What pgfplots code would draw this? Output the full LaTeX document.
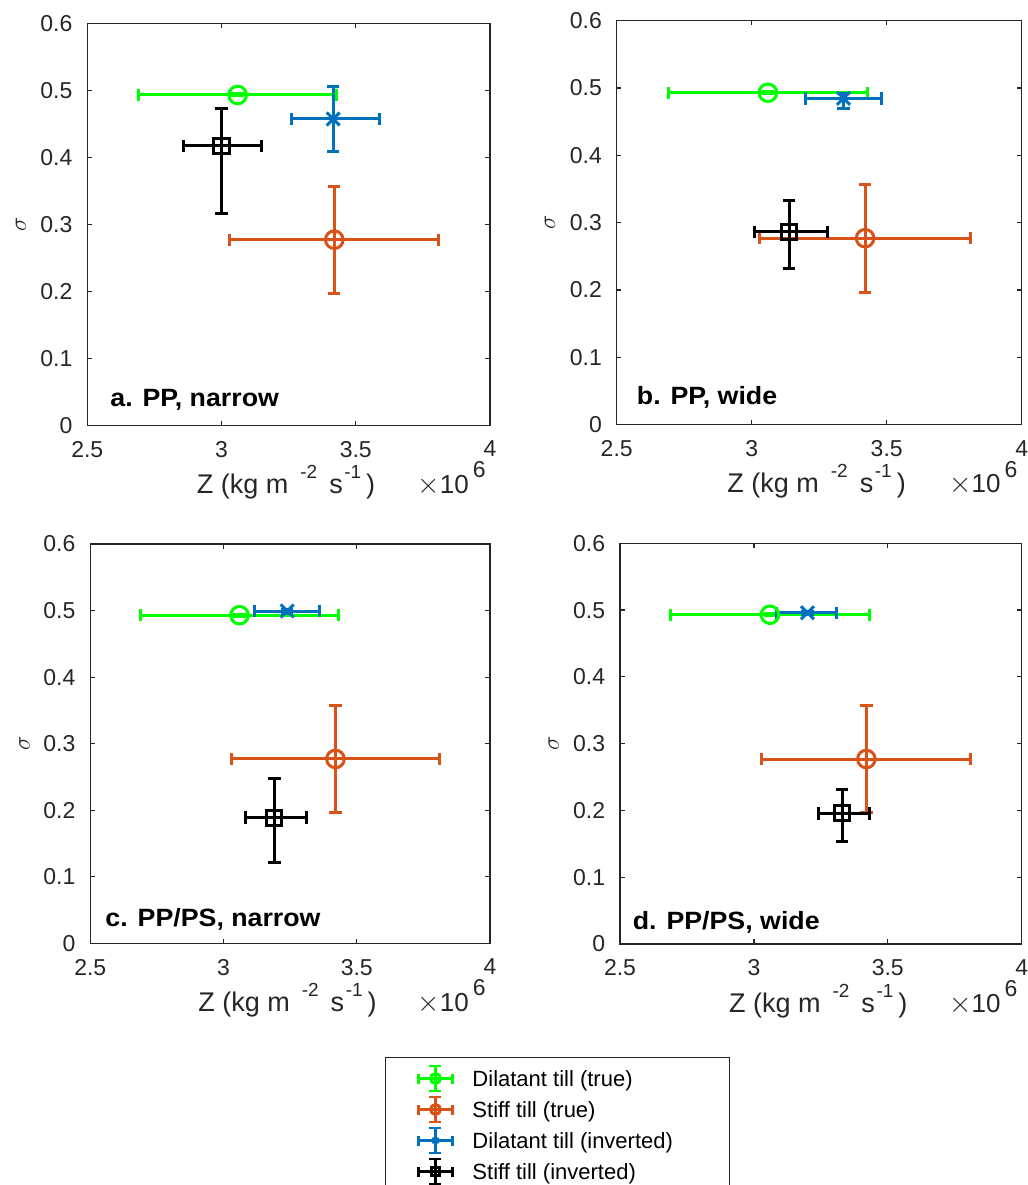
\documentclass[border=0pt]{standalone}
\usepackage{pgfplots}
\pgfplotsset{compat=1.18}
\usepackage{fontspec}
\setmainfont{Liberation Sans}
\usepackage{graphicx}

\definecolor{cGreen}{rgb}{0,1,0}
\definecolor{cOrange}{rgb}{0.851,0.325,0.098}
\definecolor{cBlue}{rgb}{0,0.447,0.741}
\definecolor{cAx}{rgb}{0.15,0.15,0.15}

\newcommand{\sups}[2][9.5]{\raisebox{7.5pt}{\fontsize{#1}{#1}\selectfont #2}}
\newcommand{\xlab}{Z (kg m\hspace{6pt}\sups{-2}\hspace{6pt}s\hspace{0.8pt}\sups{-1}\hspace{2.5pt})}
\newcommand{\tenx}{$\times$\fontsize{13}{15}\selectfont 10\hspace{2pt}\raisebox{7.8pt}{\fontsize{11.5}{12}\selectfont 6}}

\newcommand{\legicon}[3]{%
  \pgfinterruptboundingbox
  \draw[color=#1, line width=1.4pt] (0pt,0pt) -- (17pt,0pt);
  \draw[color=#1, line width=1.4pt] (0pt,-2.5pt) -- (0pt,2.5pt);
  \draw[color=#1, line width=1.4pt] (17pt,-2.5pt) -- (17pt,2.5pt);
  \draw[color=#1, line width=1.4pt] (8.5pt,-6.25pt) -- (8.5pt,6.25pt);
  \draw[color=#1, line width=1.4pt] (5.5pt,-6.25pt) -- (11.5pt,-6.25pt);
  \draw[color=#1, line width=1.4pt] (5.5pt,6.25pt) -- (11.5pt,6.25pt);
  \draw[color=#1, line width=1.2pt, mark=#2, mark size=#3, only marks] plot coordinates {(8.5pt,0pt)};
  \endpgfinterruptboundingbox
  \path[draw=none, fill=none] (-16.5pt,-7.75pt) rectangle (27pt,7.75pt);
}

\pgfplotsset{
  panel/.style={
    scale only axis,
    xmin=2.5, xmax=4, ymin=0, ymax=0.6,
    xtick={2.5,3,3.5,4}, ytick={0,0.1,0.2,0.3,0.4,0.5,0.6},
    tick align=inside, major tick length=2.3pt,
    every tick/.style={cAx, line width=0.6pt},
    axis line style={cAx, line width=0.6pt},
    tick label style={font=\fontsize{11.5}{13}\selectfont, color=cAx},
    /pgf/number format/assume math mode=true,
    yticklabel style={xshift=-3.9pt},
    xticklabel style={yshift=-4.4pt},
    xlabel={\xlab},
    xlabel style={at={(axis description cs:0.5,0)}, anchor=base, yshift=-34pt, xshift=-1.3pt, font=\fontsize{13.5}{15}\selectfont, color=cAx},
    ylabel={$\sigma$},
    ylabel style={at={(axis description cs:-0.165,0.5)}, anchor=center, font=\fontsize{12}{14}\selectfont, color=cAx},
    clip=false,
  },
  eb/.style={only marks, line width=1.5pt, color=#1, mark options={line width=1.5pt},
    error bars/.cd, x dir=both, x explicit, y dir=both, y explicit,
    error bar style={line width=1.5pt, color=#1},
    error mark options={rotate=90, line width=1.5pt, color=#1, mark size=3.1pt}},
  mcirc/.style={mark=o, mark size=4.4pt},
  mx/.style={mark=x, mark size=4.6pt},
  msq/.style={mark=square, mark size=3.8pt},
}

\newcommand{\tenxnode}{\node[anchor=base east, inner sep=0pt, font=\fontsize{13.5}{15}\selectfont, color=cAx] at (rel axis cs:1,0) [xshift=-2pt, yshift=-34pt] {\tenx};}
\newcommand{\plab}[3]{\node[anchor=base west, inner sep=0pt, font=\bfseries\fontsize{12.5}{14}\selectfont] at (rel axis cs:#1,#2) {\scalebox{1.07}[1]{#3}};}

\begin{document}
\begin{tikzpicture}
\useasboundingbox (0,0) rectangle (514pt,592.5pt);

% ---------- a ----------
\begin{axis}[panel, at={(43.65pt,379.85pt)}, anchor=south west, width=201.35pt, height=201pt]
\addplot[mcirc, eb=cGreen] table[x=x, y=y, x error plus=xp, x error minus=xm, y error plus=yp, y error minus=ym] {
x y xm xp ym yp
3.06 0.493 0.370 0.370 0.0015 0.0015
};
\addplot[mcirc, eb=cOrange] table[x=x, y=y, x error plus=xp, x error minus=xm, y error plus=yp, y error minus=ym] {
x y xm xp ym yp
3.42 0.277 0.39 0.39 0.08 0.08
};
\addplot[mx, eb=cBlue] table[x=x, y=y, x error plus=xp, x error minus=xm, y error plus=yp, y error minus=ym] {
x y xm xp ym yp
3.416 0.4572 0.155 0.174 0.0485 0.0485
};
\addplot[msq, eb=black] table[x=x, y=y, x error plus=xp, x error minus=xm, y error plus=yp, y error minus=ym] {
x y xm xp ym yp
3.0 0.417 0.141 0.149 0.1005 0.056
};
\tenxnode
\plab{0.0564}{0.0463}{a. PP, narrow}
\end{axis}

% ---------- b ----------
\begin{axis}[panel, at={(308.35pt,380.15pt)}, anchor=south west, width=202.5pt, height=202pt]
\addplot[mcirc, eb=cGreen] table[x=x, y=y, x error plus=xp, x error minus=xm, y error plus=yp, y error minus=ym] {
x y xm xp ym yp
3.06 0.493 0.370 0.370 0.0015 0.0015
};
\addplot[mcirc, eb=cOrange] table[x=x, y=y, x error plus=xp, x error minus=xm, y error plus=yp, y error minus=ym] {
x y xm xp ym yp
3.42 0.277 0.39 0.39 0.08 0.08
};
\addplot[mx, eb=cBlue] table[x=x, y=y, x error plus=xp, x error minus=xm, y error plus=yp, y error minus=ym] {
x y xm xp ym yp
3.34 0.4847 0.14 0.139 0.015 0.0074
};
\addplot[msq, eb=black] table[x=x, y=y, x error plus=xp, x error minus=xm, y error plus=yp, y error minus=ym] {
x y xm xp ym yp
3.139 0.2866 0.127 0.141 0.054 0.046
};
\tenxnode
\plab{0.049}{0.049}{b. PP, wide}
\end{axis}

% ---------- c ----------
\begin{axis}[panel, at={(45.15pt,120.85pt)}, anchor=south west, width=199.85pt, height=199.65pt,
  legend style={at={(axis description cs:0.7373,-0.2848)}, anchor=north west,
    draw=cAx, line width=0.5pt, font=\fontsize{11}{13}\selectfont,
    inner xsep=0pt, inner ysep=2.75pt, row sep=0pt, column sep=0pt,
    nodes={inner sep=0pt, text height=11.69pt, text depth=3.81pt},
    cells={anchor=west}}]
\addplot[mcirc, legend image code/.code={\legicon{cGreen}{o}{2.5pt}}, eb=cGreen] table[x=x, y=y, x error plus=xp, x error minus=xm, y error plus=yp, y error minus=ym] {
x y xm xp ym yp
3.06 0.493 0.370 0.370 0.0015 0.0015
};
\addlegendentry{\makebox[128.5pt][l]{Dilatant till (true)}}
\addplot[mcirc, legend image code/.code={\legicon{cOrange}{o}{2.5pt}}, eb=cOrange] table[x=x, y=y, x error plus=xp, x error minus=xm, y error plus=yp, y error minus=ym] {
x y xm xp ym yp
3.42 0.277 0.39 0.39 0.08 0.08
};
\addlegendentry{\makebox[128.5pt][l]{Stiff till (true)}}
\addplot[mx, legend image code/.code={\legicon{cBlue}{asterisk}{2pt}}, eb=cBlue] table[x=x, y=y, x error plus=xp, x error minus=xm, y error plus=yp, y error minus=ym] {
x y xm xp ym yp
3.239 0.4993 0.121 0.120 0.003 0.003
};
\addlegendentry{\makebox[128.5pt][l]{Dilatant till (inverted)}}
\addplot[msq, legend image code/.code={\legicon{black}{square}{2pt}}, eb=black] table[x=x, y=y, x error plus=xp, x error minus=xm, y error plus=yp, y error minus=ym] {
x y xm xp ym yp
3.1906 0.1888 0.110 0.119 0.067 0.059
};
\addlegendentry{\makebox[128.5pt][l]{Stiff till (inverted)}}
\tenxnode
\plab{0.037}{0.043}{c. PP/PS, narrow}
\end{axis}

% ---------- d ----------
\begin{axis}[panel, at={(310pt,120.5pt)}, anchor=south west, width=200.85pt, height=200.35pt]
\addplot[mcirc, eb=cGreen] table[x=x, y=y, x error plus=xp, x error minus=xm, y error plus=yp, y error minus=ym] {
x y xm xp ym yp
3.06 0.493 0.370 0.370 0.0015 0.0015
};
\addplot[mcirc, eb=cOrange] table[x=x, y=y, x error plus=xp, x error minus=xm, y error plus=yp, y error minus=ym] {
x y xm xp ym yp
3.42 0.277 0.39 0.39 0.08 0.08
};
\addplot[mx, eb=cBlue] table[x=x, y=y, x error plus=xp, x error minus=xm, y error plus=yp, y error minus=ym] {
x y xm xp ym yp
3.20 0.496 0.1145 0.1096 0.002 0.002
};
\addplot[msq, eb=black] table[x=x, y=y, x error plus=xp, x error minus=xm, y error plus=yp, y error minus=ym] {
x y xm xp ym yp
3.330 0.1957 0.0895 0.101 0.0415 0.035
};
\tenxnode
\plab{0.031}{0.037}{d. PP/PS, wide}
\end{axis}
\end{tikzpicture}
\end{document}
